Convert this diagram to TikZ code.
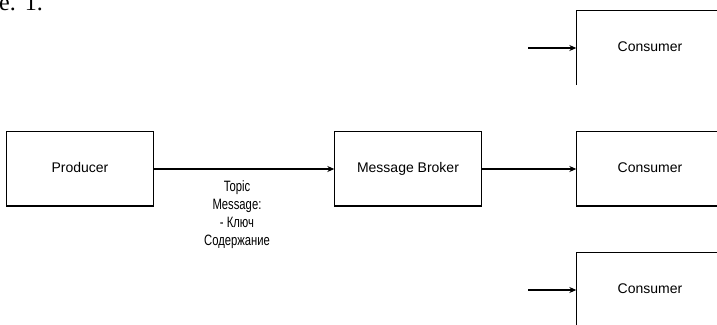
\documentclass[tikz,border=0pt]{standalone}
\usepackage{fontspec}
\setmainfont{Liberation Sans}
\newfontfamily\captfont{Liberation Serif}
\usetikzlibrary{arrows.meta}
\begin{document}
\begin{tikzpicture}[x=1pt,y=1pt,
  box/.style={minimum width=147pt,minimum height=74pt,inner sep=0pt,
    text height=10pt,text depth=3pt,
    font=\fontsize{14}{16}\selectfont},
  frame/.style={line width=0.9pt},
  base/.style={line width=2.2pt},
  flow/.style={line width=2.2pt,-{Stealth[length=7pt,width=6pt]}},
  feed/.style={line width=1.3pt,-{Stealth[length=7pt,width=6pt]}}]
\useasboundingbox (0,0) rectangle (717,324);
\node[anchor=base west,inner sep=0pt,font=\captfont\fontsize{24}{26}\selectfont] (cap) at (-1,313) {е.\hspace{9pt}1.};
\node[box] (p) at (80,155) {Producer};
\node[box] (b) at (408,155) {Message Broker};
\node[box] (cm) at (650,155) {Consumer};
\node[box] (ct) at (650,276) {Consumer};
\node[box] (cb) at (650,34) {Consumer};
\foreach \n in {p,b,cm}{
  \draw[frame] (\n.south west) -- (\n.north west) -- (\n.north east) -- (\n.south east);
  \draw[base] (\n.south west) -- (\n.south east);
}
\draw[frame] (ct.south west) -- (ct.north west) -- (ct.north east);
\draw[frame] (cb.south west) -- (cb.north west) -- (cb.north east);
\draw[flow] (p.east) -- (b.west);
\draw[flow] (b.east) -- (cm.west);
\coordinate (s1) at (528,276);
\coordinate (s2) at (528,34);
\draw[feed] (s1) -- (ct.west);
\draw[feed] (s2) -- (cb.west);
\node[inner sep=0pt] (lbl) at (237,109) {\scalebox{0.75}[1]{\fontsize{15}{18}\selectfont\begin{tabular}{@{}c@{}}Topic\\Message:\\- Ключ\\Содержание\end{tabular}}};
\end{tikzpicture}
\end{document}
